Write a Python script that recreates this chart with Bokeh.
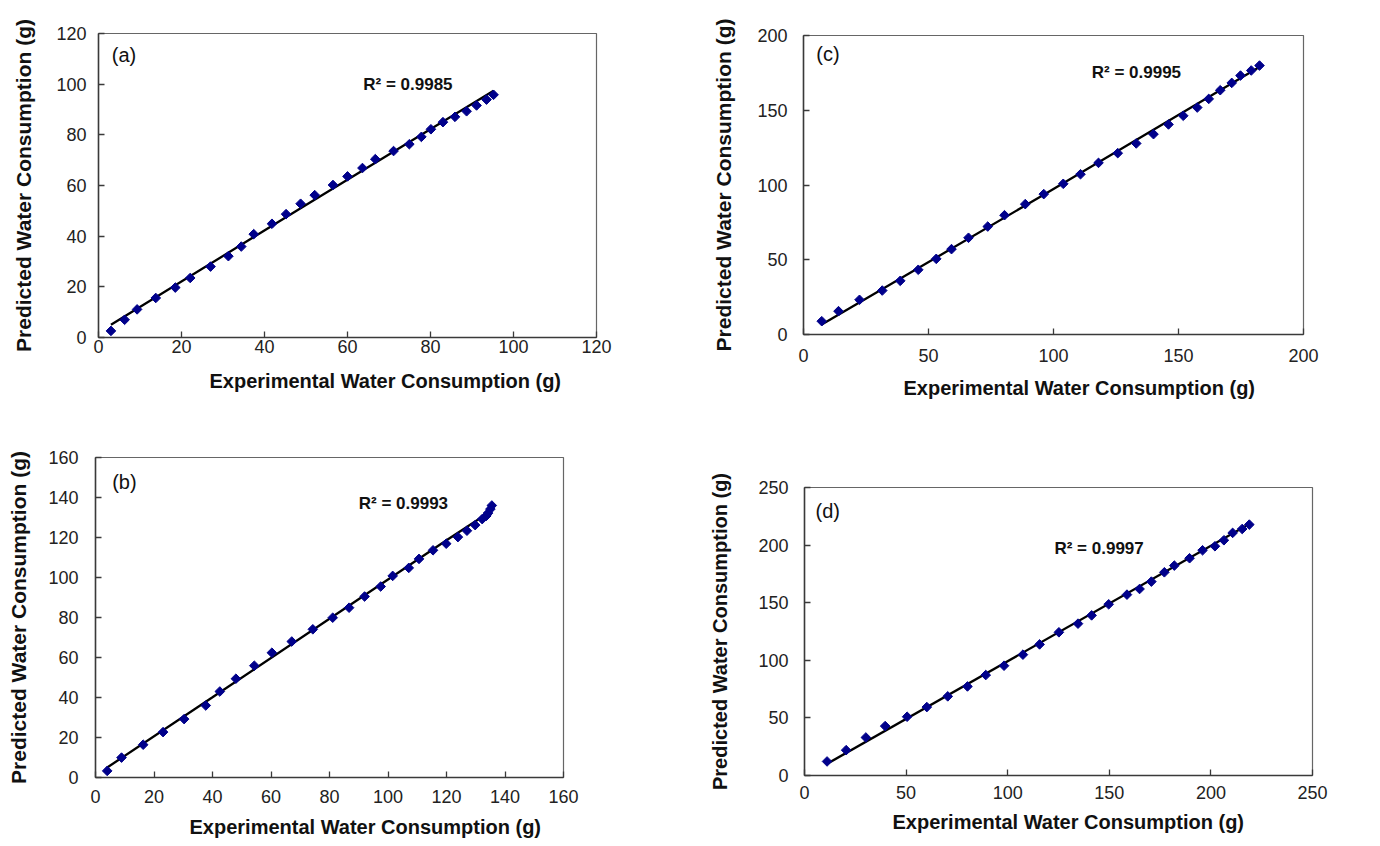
from bokeh.plotting import figure
from bokeh.models import Range1d, FixedTicker, Label, Title, Spacer
from bokeh.layouts import column, row
from bokeh.embed import file_html
from bokeh.resources import INLINE

# ---------------- data ----------------
a_exp = [3.0, 6.3, 9.3, 13.8, 18.5, 22.1, 27.0, 31.3, 34.4, 37.4, 41.8, 45.2, 48.7, 52.1,
         56.5, 60.0, 63.6, 66.7, 71.1, 74.9, 77.8, 80.1, 83.0, 85.9, 88.7, 91.1, 93.5, 95.2]
a_pred = [2.6, 7.0, 11.1, 15.6, 19.7, 23.5, 28.0, 32.1, 35.9, 40.8, 44.9, 48.7, 52.8, 56.2,
          60.2, 63.6, 66.9, 70.4, 73.6, 76.3, 79.2, 82.2, 85.0, 87.1, 89.3, 91.6, 93.9, 95.8]
a_fit_x = [3.0, 48.7, 95.2]
a_fit_y = [5.0, 51.0, 97.4]

b_exp = [4.0, 8.9, 16.3, 23.1, 30.3, 37.7, 42.5, 48.0, 54.3, 60.3, 67.1, 74.3, 81.1, 86.7, 92.0,
         97.5, 101.6, 107.1, 110.6, 115.4, 119.9, 123.9, 127.0, 129.8, 132.2, 133.6, 134.2, 135.0, 135.5]
b_pred = [3.3, 9.95, 16.4, 22.7, 29.2, 36.0, 43.0, 49.4, 55.9, 62.4, 68.0, 74.1, 79.9, 84.9, 90.5,
          95.5, 100.8, 104.8, 109.3, 113.6, 116.9, 120.2, 123.4, 126.2, 129.2, 130.8, 132.2, 134.2, 136.0]
b_fit_x = [4.0, 40.0, 80.0, 120.0, 131.5, 134.0, 135.5]
b_fit_y = [5.0, 40.1, 79.4, 118.6, 129.6, 132.5, 136.2]

c_exp = [7.3, 14.0, 22.4, 31.5, 38.7, 45.9, 53.1, 59.2, 66.0, 73.7, 80.4, 88.7, 96.1, 103.9,
         110.8, 118.0, 125.7, 133.1, 140.0, 146.0, 151.9, 157.5, 162.1, 166.7, 171.3, 174.8, 179.1, 182.4]
c_pred = [8.9, 15.6, 23.2, 29.4, 35.9, 43.3, 50.6, 57.1, 64.7, 72.2, 79.8, 87.2, 93.9, 100.8,
          107.2, 114.8, 121.3, 127.8, 134.0, 140.5, 146.3, 151.8, 157.6, 163.4, 168.3, 173.2, 176.6, 179.9]
c_fit_x = [7.3, 96.1, 182.7]
c_fit_y = [6.7, 93.5, 179.3]

d_exp = [11.1, 20.5, 30.2, 39.7, 50.5, 60.2, 70.5, 80.2, 89.2, 98.2, 107.5, 115.7, 125.2, 134.6,
         141.3, 149.7, 158.7, 164.9, 170.7, 177.1, 182.0, 189.5, 195.9, 202.0, 206.4, 210.7, 215.4, 218.9]
d_pred = [12.2, 22.0, 33.0, 42.9, 51.0, 59.4, 68.7, 77.3, 87.2, 95.3, 104.9, 113.8, 124.3, 131.8,
          139.0, 148.6, 157.0, 161.9, 168.3, 176.4, 182.2, 188.6, 195.5, 199.0, 204.2, 210.6, 214.0, 217.8]
d_fit_x = [11.1, 219.3]
d_fit_y = [10.1, 218.7]

a_ticks = [0, 20, 40, 60, 80, 100, 120]
b_ticks = [0, 20, 40, 60, 80, 100, 120, 140, 160]
c_ticks = [0, 50, 100, 150, 200]
d_ticks = [0, 50, 100, 150, 200, 250]

r2_texts = ["R\u00b2 = 0.9985", "R\u00b2 = 0.9993", "R\u00b2 = 0.9995", "R\u00b2 = 0.9997"]
panel_tags = ["(a)", "(b)", "(c)", "(d)"]

X_TITLE = "Experimental Water Consumption (g)"
Y_TITLE = "Predicted Water Consumption (g)"
FONT = "Liberation Sans"


def make_panel(xs, ys, fx, fy, ticks, tag, r2, lay):
    top = ticks[-1]
    p = figure(width=lay["w"], height=lay["h"], output_backend="svg", toolbar_location=None,
               title=None, x_range=Range1d(0, top), y_range=Range1d(0, top))
    p.min_border_left = lay["bl"]
    p.min_border_right = lay["br"]
    p.min_border_top = lay["bt"]
    p.min_border_bottom = lay["bb"]
    p.background_fill_color = "white"
    p.border_fill_color = "white"
    p.outline_line_color = "#666666"
    p.outline_line_width = 1.2
    p.grid.visible = False

    for ax in (p.xaxis[0], p.yaxis[0]):
        ax.ticker = FixedTicker(ticks=ticks)
        ax.major_tick_in = 6
        ax.major_tick_out = 0
        ax.minor_tick_line_color = None
        ax.axis_line_color = "#3a3a3a"
        ax.axis_line_width = 1.5
        ax.major_tick_line_color = "#3a3a3a"
        ax.major_tick_line_width = 1.3
        ax.major_label_text_font = FONT
        ax.major_label_text_font_size = "18px"
        ax.major_label_text_color = "#222222"

    p.xaxis.major_label_standoff = lay["xls"]
    p.yaxis.major_label_standoff = lay["yls"]

    p.yaxis.axis_label = Y_TITLE
    p.yaxis.axis_label_text_font = FONT
    p.yaxis.axis_label_text_font_size = lay["yfs"]
    p.yaxis.axis_label_text_font_style = "bold"
    p.yaxis.axis_label_text_color = "#111111"
    p.yaxis.axis_label_standoff = lay["yts"]

    t = Title(text=X_TITLE, align="left", offset=lay["xto"], standoff=lay["xts"],
              text_font=FONT, text_font_size="20px", text_font_style="bold",
              text_color="#111111")
    p.add_layout(t, "below")

    p.line(fx, fy, line_color="black", line_width=2.3)
    p.scatter(xs, ys, marker="square", angle=0.785398, size=6.8,
              fill_color="#00008B", line_color="#00008B")

    p.add_layout(Label(x=lay["tagx"], y=lay["tagy"], text=tag, text_font=FONT,
                       text_font_size="20px", text_color="#111111", text_baseline="middle"))
    p.add_layout(Label(x=lay["r2x"], y=lay["r2y"], text=r2, text_font=FONT,
                       text_font_size="17px", text_font_style="bold", text_color="#111111",
                       text_baseline="middle"))
    return p


lay_a = dict(w=692, h=420, bl=98, br=96, bt=33, bb=83, xls=2, yls=12, yts=18, xts=25, xto=111,
             yfs="21px", tagx=3.2, tagy=111.5, r2x=63.8, r2y=100.0)
lay_c = dict(w=686, h=416, bl=111, br=75, bt=33, bb=84, xls=14, yls=16, yts=19, xts=20, xto=100,
             yfs="21px", tagx=5.1, tagy=187.7, r2x=115.3, r2y=175.5)
lay_b = dict(w=692, h=425, bl=95, br=129, bt=37, bb=66, xls=12, yls=17, yts=15, xts=16, xto=94,
             yfs="21px", tagx=5.7, tagy=147.9, r2x=90.0, r2y=136.8)
lay_d = dict(w=686, h=391, bl=112, br=66, bt=37, bb=66, xls=10, yls=16, yts=24, xts=15, xto=88,
             yfs="20px", tagx=5.4, tagy=229.7, r2x=123.0, r2y=197.0)

pa = make_panel(a_exp, a_pred, a_fit_x, a_fit_y, a_ticks, panel_tags[0], r2_texts[0], lay_a)
pb = make_panel(b_exp, b_pred, b_fit_x, b_fit_y, b_ticks, panel_tags[1], r2_texts[1], lay_b)
pc = make_panel(c_exp, c_pred, c_fit_x, c_fit_y, c_ticks, panel_tags[2], r2_texts[2], lay_c)
pd = make_panel(d_exp, d_pred, d_fit_x, d_fit_y, d_ticks, panel_tags[3], r2_texts[3], lay_d)

top_row = row(pa, column(Spacer(width=686, height=2), pc, spacing=0), spacing=0)
bottom_row = row(pb, column(Spacer(width=686, height=30), pd, spacing=0), spacing=0)
layout = column(top_row, bottom_row, spacing=0)

open("out.html", "w").write(file_html(layout, INLINE))
